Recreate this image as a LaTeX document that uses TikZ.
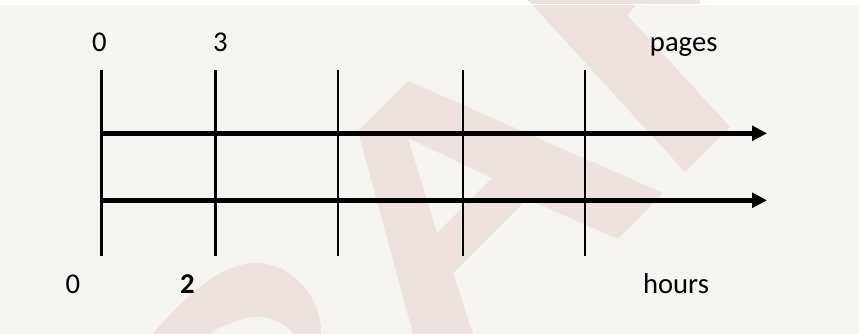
\documentclass[tikz,border=0pt]{standalone}
\usepackage{fontspec}
\setmainfont{Carlito}
\usetikzlibrary{arrows.meta}
\definecolor{bgc}{RGB}{245,244,240}
\definecolor{wmc}{RGB}{237,226,222}
\begin{document}
\begin{tikzpicture}[x=0.75pt,y=-0.75pt,
  lbl/.style={anchor=base, inner sep=0pt, font=\fontsize{21.5}{25}\selectfont},
  boldtick/.style={line width=2.0pt},
  thintick/.style={line width=1.3pt},
  axisarrow/.style={line width=3.4pt, -{Triangle[length=11.25pt,width=11pt]}},
  wmark/.style={fill=wmc, draw=none}]
\useasboundingbox (0,0) rectangle (859,334);
% background
\fill[white] (0,0) rectangle (859,334);
\fill[bgc] (0,5.5) rectangle (859,334);
% watermark shapes
\fill[wmark, even odd rule]
  (413,334) -- (358,131) -- (408,81) -- (663,193) -- (618,239) -- (527,199)
  -- (453,273) -- (473,334) -- cycle
  (408,138) -- (492,178) -- (437,233) -- cycle;
\fill[wmark]
  (153,334) .. controls (190,290) and (225,262) .. (258,263)
  .. controls (295,265) and (322,300) .. (321,334) -- (294,334)
  .. controls (285,322) and (262,312) .. (243,319)
  .. controls (230,323) and (218,328) .. (209,334) -- cycle;
\fill[wmark] (528,0) -- (685,172) -- (730,127) -- (627,15) -- (641,0) -- cycle;
\fill[wmark] (636,5) -- (641,0) -- (700,0) -- (700,5) -- cycle;
\draw[white, line width=0.75pt] (500,5) -- (720,5);
% tick lines
\foreach \n/\x in {a/101.3, b/215.7, c/338.3, d/462.7, e/585.3} {
  \coordinate (\n top) at (\x,70);
  \coordinate (\n bot) at (\x,256);
}
\draw[boldtick] (atop) -- (abot);
\draw[boldtick] (btop) -- (bbot);
\draw[thintick] (ctop) -- (cbot);
\draw[thintick] (dtop) -- (dbot);
\draw[thintick] (etop) -- (ebot);
% arrows
\coordinate (p0) at (101.3,133.3);
\coordinate (p1) at (767,133.3);
\coordinate (h0) at (101.3,200.3);
\coordinate (h1) at (767,200.3);
\draw[axisarrow] (p0) -- (p1);
\draw[axisarrow] (h0) -- (h1);
% labels
\node[lbl] (ptop0) at (99.5,51.7) {0};
\node[lbl] (ptop3) at (220.3,51.7) {3};
\node[lbl] (pages) at (683.7,51.7) {pages};
\node[lbl] (hbot0) at (73,294) {0};
\node[lbl, font=\fontsize{21.5}{25}\selectfont\bfseries] (hbot2) at (187.3,294) {2};
\node[lbl] (hours) at (676,294) {hours};
\end{tikzpicture}
\end{document}
